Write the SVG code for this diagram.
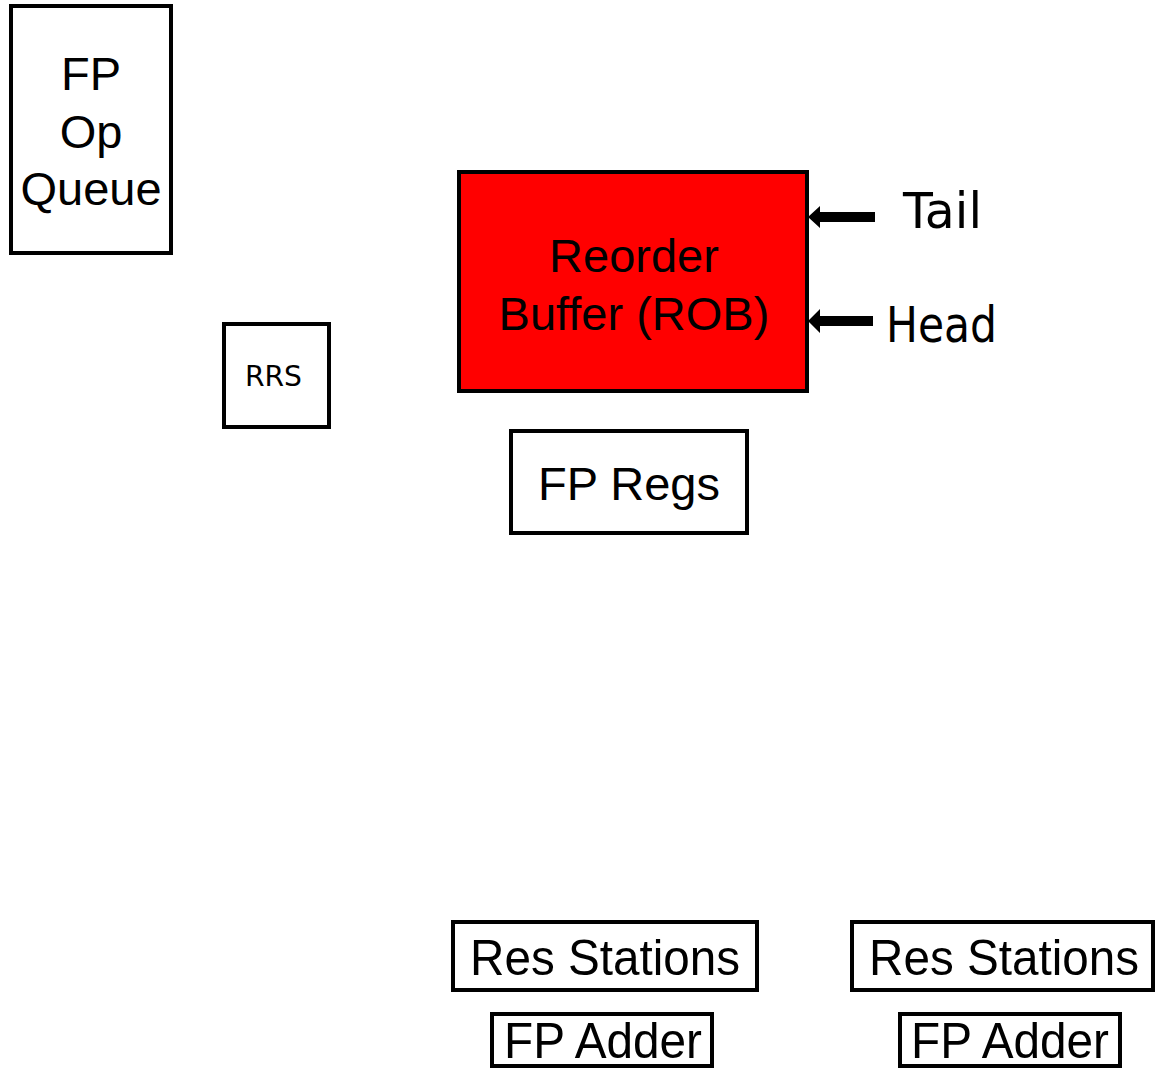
<svg xmlns="http://www.w3.org/2000/svg" width="1155" height="1070" viewBox="0 0 1155 1070">
<style>
.box{fill:#fff;stroke:#000;stroke-width:4}
.t{font-family:"Liberation Sans",Arial,sans-serif;fill:#000;text-anchor:middle}
.c{font-family:"Comic Sans MS","DejaVu Sans",sans-serif;fill:#000}
</style>
<rect width="1155" height="1070" fill="#fff"/>
<g id="fp-op-queue">
<rect class="box" x="11" y="6" width="160" height="247"/>
<text class="t" x="91" y="90" font-size="47">FP</text>
<text class="t" x="91" y="148" font-size="47">Op</text>
<text class="t" x="91" y="205" font-size="47">Queue</text>
</g>
<g id="rrs">
<rect class="box" x="224" y="324" width="105" height="103"/>
<text class="c" x="245" y="386" font-size="28" textLength="57" lengthAdjust="spacingAndGlyphs">RRS</text>
</g>
<g id="rob">
<rect x="459" y="172" width="348" height="219" fill="#ff0000" stroke="#000" stroke-width="4"/>
<text class="t" x="634" y="272" font-size="47">Reorder</text>
<text class="t" x="634" y="330" font-size="47">Buffer (ROB)</text>
</g>
<g id="tail">
<text class="c" x="903" y="228" font-size="50" textLength="79" lengthAdjust="spacingAndGlyphs">Tail</text>
</g>
<g id="head">
<text class="c" x="886" y="342" font-size="50" textLength="111" lengthAdjust="spacingAndGlyphs">Head</text>
</g>
<g id="fp-regs">
<rect class="box" x="511" y="431" width="236" height="102"/>
<text class="t" x="629" y="500" font-size="47">FP Regs</text>
</g>
<g id="res-stations-1">
<rect class="box" x="453" y="922" width="304" height="68"/>
<text class="t" x="605" y="975" font-size="50" textLength="270" lengthAdjust="spacingAndGlyphs">Res Stations</text>
</g>
<g id="res-stations-2">
<rect class="box" x="852" y="922" width="301" height="68"/>
<text class="t" x="1004" y="975" font-size="50" textLength="270" lengthAdjust="spacingAndGlyphs">Res Stations</text>
</g>
<g id="fp-adder-1">
<rect class="box" x="492" y="1014" width="220" height="52"/>
<text class="t" x="603" y="1058" font-size="50" textLength="198" lengthAdjust="spacingAndGlyphs">FP Adder</text>
</g>
<g id="fp-adder-2">
<rect class="box" x="900" y="1014" width="220" height="52"/>
<text class="t" x="1010" y="1058" font-size="50" textLength="198" lengthAdjust="spacingAndGlyphs">FP Adder</text>
</g>
<g id="connectors" fill="#000">
<path d="M875,212 L820,212 L820,206 L808,217 L820,228 L820,222 L875,222 Z"/>
<path d="M873,316 L820,316 L820,309 L808,321 L820,333 L820,326 L873,326 Z"/>
</g>
</svg>
